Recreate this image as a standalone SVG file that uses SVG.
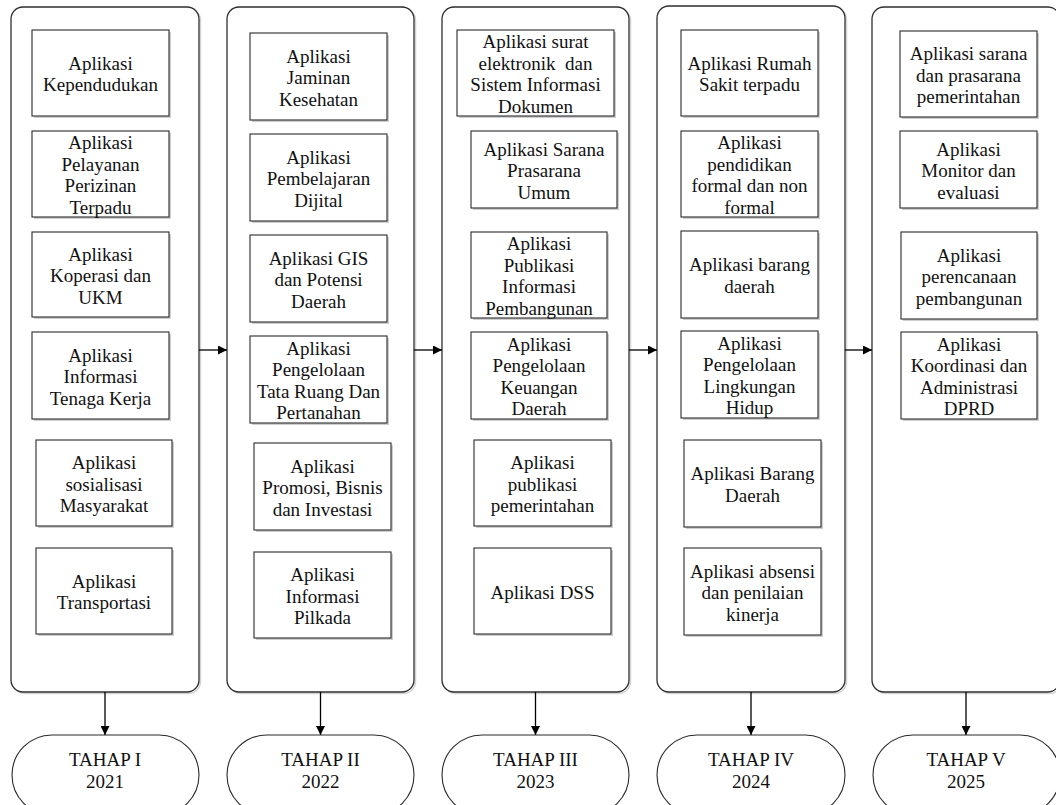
<svg xmlns="http://www.w3.org/2000/svg" width="1056" height="805" viewBox="0 0 1056 805">
  <style>
    .lane { fill: #ffffff; stroke: #2e2e2e; stroke-width: 1.3; }
    .lane-sh { fill: none; stroke: #d4d4d4; stroke-width: 1.5; }
    .box { fill: #ffffff; stroke: #2a2a2a; stroke-width: 1.1; }
    .box-sh { fill: #cfcfcf; }
    .term { fill: #ffffff; stroke: #2a2a2a; stroke-width: 1.1; }
    .t { font-family: "Liberation Serif", "Times New Roman", serif; font-size: 19px; text-anchor: middle; fill: #111111; }
    .edge { fill: none; stroke: #000000; stroke-width: 1.3; marker-end: url(#arrow); }
  </style>
  <defs>
    <marker id="arrow" viewBox="0 0 10 10" refX="10" refY="5" markerWidth="9" markerHeight="9" markerUnits="userSpaceOnUse" orient="auto">
      <path d="M0,0 L10,5 L0,10 z" fill="#000000"/>
    </marker>
  </defs>
  <rect width="1056" height="805" fill="#ffffff"/>

  <!-- stage lanes -->
  <g id="lane-1">
    <rect class="lane-sh" x="12.5" y="8.5" width="188" height="685" rx="12"/>
    <rect class="lane" x="11" y="7" width="188" height="685" rx="12"/>
  </g>
  <g id="lane-2">
    <rect class="lane-sh" x="228.5" y="8.5" width="187" height="685" rx="12"/>
    <rect class="lane" x="227" y="7" width="187" height="685" rx="12"/>
  </g>
  <g id="lane-3">
    <rect class="lane-sh" x="443.5" y="8.5" width="187" height="685" rx="12"/>
    <rect class="lane" x="442" y="7" width="187" height="685" rx="12"/>
  </g>
  <g id="lane-4">
    <rect class="lane-sh" x="658.5" y="7.5" width="188" height="686" rx="12"/>
    <rect class="lane" x="657" y="6" width="188" height="686" rx="12"/>
  </g>
  <g id="lane-5">
    <rect class="lane-sh" x="873.5" y="8.5" width="188" height="685" rx="12"/>
    <rect class="lane" x="872" y="7" width="188" height="685" rx="12"/>
  </g>

  <!-- connectors -->
  <g id="connectors">
    <line class="edge" x1="199" y1="350" x2="227" y2="350"/>
    <line class="edge" x1="414" y1="350" x2="442" y2="350"/>
    <line class="edge" x1="629" y1="350" x2="657" y2="350"/>
    <line class="edge" x1="845" y1="350" x2="872" y2="350"/>
    <line class="edge" x1="105" y1="692" x2="105" y2="735"/>
    <line class="edge" x1="320.5" y1="692" x2="320.5" y2="735"/>
    <line class="edge" x1="535.5" y1="692" x2="535.5" y2="735"/>
    <line class="edge" x1="751" y1="692" x2="751" y2="735"/>
    <line class="edge" x1="966" y1="692" x2="966" y2="735"/>
  </g>

  <!-- TAHAP I -->
  <g id="app-kependudukan">
    <rect class="box-sh" x="34" y="32" width="137" height="86"/>
    <rect class="box" x="32" y="30" width="137" height="86"/>
    <text class="t" x="100.5" y="69.75"><tspan x="100.5">Aplikasi</tspan><tspan x="100.5" dy="21.5">Kependudukan</tspan></text>
  </g>
  <g id="app-perizinan">
    <rect class="box-sh" x="34" y="133" width="137" height="86"/>
    <rect class="box" x="32" y="131" width="137" height="86"/>
    <text class="t" x="100.5" y="149.25"><tspan x="100.5">Aplikasi</tspan><tspan x="100.5" dy="21.5">Pelayanan</tspan><tspan x="100.5" dy="21.5">Perizinan</tspan><tspan x="100.5" dy="21.5">Terpadu</tspan></text>
  </g>
  <g id="app-koperasi">
    <rect class="box-sh" x="34" y="234" width="137" height="85"/>
    <rect class="box" x="32" y="232" width="137" height="85"/>
    <text class="t" x="100.5" y="260.5"><tspan x="100.5">Aplikasi</tspan><tspan x="100.5" dy="21.5">Koperasi dan</tspan><tspan x="100.5" dy="21.5">UKM</tspan></text>
  </g>
  <g id="app-tenaga-kerja">
    <rect class="box-sh" x="34" y="334" width="137" height="87"/>
    <rect class="box" x="32" y="332" width="137" height="87"/>
    <text class="t" x="100.5" y="361.5"><tspan x="100.5">Aplikasi</tspan><tspan x="100.5" dy="21.5">Informasi</tspan><tspan x="100.5" dy="21.5">Tenaga Kerja</tspan></text>
  </g>
  <g id="app-sosialisasi">
    <rect class="box-sh" x="38" y="442" width="136" height="86"/>
    <rect class="box" x="36" y="440" width="136" height="86"/>
    <text class="t" x="104" y="469"><tspan x="104">Aplikasi</tspan><tspan x="104" dy="21.5">sosialisasi</tspan><tspan x="104" dy="21.5">Masyarakat</tspan></text>
  </g>
  <g id="app-transportasi">
    <rect class="box-sh" x="38" y="550" width="136" height="86"/>
    <rect class="box" x="36" y="548" width="136" height="86"/>
    <text class="t" x="104" y="587.75"><tspan x="104">Aplikasi</tspan><tspan x="104" dy="21.5">Transportasi</tspan></text>
  </g>

  <!-- TAHAP II -->
  <g id="app-jaminan">
    <rect class="box-sh" x="252" y="35" width="137" height="87"/>
    <rect class="box" x="250" y="33" width="137" height="87"/>
    <text class="t" x="318.5" y="62.5"><tspan x="318.5">Aplikasi</tspan><tspan x="318.5" dy="21.5">Jaminan</tspan><tspan x="318.5" dy="21.5">Kesehatan</tspan></text>
  </g>
  <g id="app-pembelajaran">
    <rect class="box-sh" x="252" y="136" width="137" height="87"/>
    <rect class="box" x="250" y="134" width="137" height="87"/>
    <text class="t" x="318.5" y="163.5"><tspan x="318.5">Aplikasi</tspan><tspan x="318.5" dy="21.5">Pembelajaran</tspan><tspan x="318.5" dy="21.5">Dijital</tspan></text>
  </g>
  <g id="app-gis">
    <rect class="box-sh" x="252" y="237" width="137" height="87"/>
    <rect class="box" x="250" y="235" width="137" height="87"/>
    <text class="t" x="318.5" y="264.5"><tspan x="318.5">Aplikasi GIS</tspan><tspan x="318.5" dy="21.5">dan Potensi</tspan><tspan x="318.5" dy="21.5">Daerah</tspan></text>
  </g>
  <g id="app-tata-ruang">
    <rect class="box-sh" x="252" y="338" width="137" height="87"/>
    <rect class="box" x="250" y="336" width="137" height="87"/>
    <text class="t" x="318.5" y="354.75"><tspan x="318.5">Aplikasi</tspan><tspan x="318.5" dy="21.5">Pengelolaan</tspan><tspan x="318.5" dy="21.5">Tata Ruang Dan</tspan><tspan x="318.5" dy="21.5">Pertanahan</tspan></text>
  </g>
  <g id="app-promosi">
    <rect class="box-sh" x="256" y="445" width="137" height="87"/>
    <rect class="box" x="254" y="443" width="137" height="87"/>
    <text class="t" x="322.5" y="472.5"><tspan x="322.5">Aplikasi</tspan><tspan x="322.5" dy="21.5">Promosi, Bisnis</tspan><tspan x="322.5" dy="21.5">dan Investasi</tspan></text>
  </g>
  <g id="app-pilkada">
    <rect class="box-sh" x="256" y="554" width="137" height="86"/>
    <rect class="box" x="254" y="552" width="137" height="86"/>
    <text class="t" x="322.5" y="581"><tspan x="322.5">Aplikasi</tspan><tspan x="322.5" dy="21.5">Informasi</tspan><tspan x="322.5" dy="21.5">Pilkada</tspan></text>
  </g>

  <!-- TAHAP III -->
  <g id="app-surat">
    <rect class="box-sh" x="459" y="32" width="157" height="86"/>
    <rect class="box" x="457" y="30" width="157" height="86"/>
    <text class="t" x="535.5" y="48.25" xml:space="preserve"><tspan x="535.5">Aplikasi surat</tspan><tspan x="535.5" dy="21.5">elektronik  dan</tspan><tspan x="535.5" dy="21.5">Sistem Informasi</tspan><tspan x="535.5" dy="21.5">Dokumen</tspan></text>
  </g>
  <g id="app-sarana-umum">
    <rect class="box-sh" x="473" y="133" width="146" height="77"/>
    <rect class="box" x="471" y="131" width="146" height="77"/>
    <text class="t" x="544" y="155.5"><tspan x="544">Aplikasi Sarana</tspan><tspan x="544" dy="21.5">Prasarana</tspan><tspan x="544" dy="21.5">Umum</tspan></text>
  </g>
  <g id="app-publikasi-pembangunan">
    <rect class="box-sh" x="473" y="234" width="136" height="86"/>
    <rect class="box" x="471" y="232" width="136" height="86"/>
    <text class="t" x="539" y="250.25"><tspan x="539">Aplikasi</tspan><tspan x="539" dy="21.5">Publikasi</tspan><tspan x="539" dy="21.5">Informasi</tspan><tspan x="539" dy="21.5">Pembangunan</tspan></text>
  </g>
  <g id="app-keuangan">
    <rect class="box-sh" x="473" y="334" width="136" height="87"/>
    <rect class="box" x="471" y="332" width="136" height="87"/>
    <text class="t" x="539" y="350.75"><tspan x="539">Aplikasi</tspan><tspan x="539" dy="21.5">Pengelolaan</tspan><tspan x="539" dy="21.5">Keuangan</tspan><tspan x="539" dy="21.5">Daerah</tspan></text>
  </g>
  <g id="app-publikasi-pemerintahan">
    <rect class="box-sh" x="476" y="442" width="137" height="86"/>
    <rect class="box" x="474" y="440" width="137" height="86"/>
    <text class="t" x="542.5" y="469"><tspan x="542.5">Aplikasi</tspan><tspan x="542.5" dy="21.5">publikasi</tspan><tspan x="542.5" dy="21.5">pemerintahan</tspan></text>
  </g>
  <g id="app-dss">
    <rect class="box-sh" x="476" y="550" width="137" height="86"/>
    <rect class="box" x="474" y="548" width="137" height="86"/>
    <text class="t" x="542.5" y="598.5">Aplikasi DSS</text>
  </g>

  <!-- TAHAP IV -->
  <g id="app-rumah-sakit">
    <rect class="box-sh" x="683" y="32" width="137" height="86"/>
    <rect class="box" x="681" y="30" width="137" height="86"/>
    <text class="t" x="749.5" y="69.75"><tspan x="749.5">Aplikasi Rumah</tspan><tspan x="749.5" dy="21.5">Sakit terpadu</tspan></text>
  </g>
  <g id="app-pendidikan">
    <rect class="box-sh" x="683" y="133" width="137" height="86"/>
    <rect class="box" x="681" y="131" width="137" height="86"/>
    <text class="t" x="749.5" y="149.25"><tspan x="749.5">Aplikasi</tspan><tspan x="749.5" dy="21.5">pendidikan</tspan><tspan x="749.5" dy="21.5">formal dan non</tspan><tspan x="749.5" dy="21.5">formal</tspan></text>
  </g>
  <g id="app-barang-daerah">
    <rect class="box-sh" x="683" y="233" width="137" height="87"/>
    <rect class="box" x="681" y="231" width="137" height="87"/>
    <text class="t" x="749.5" y="271.25"><tspan x="749.5">Aplikasi barang</tspan><tspan x="749.5" dy="21.5">daerah</tspan></text>
  </g>
  <g id="app-lingkungan">
    <rect class="box-sh" x="683" y="333" width="137" height="87"/>
    <rect class="box" x="681" y="331" width="137" height="87"/>
    <text class="t" x="749.5" y="349.75"><tspan x="749.5">Aplikasi</tspan><tspan x="749.5" dy="21.5">Pengelolaan</tspan><tspan x="749.5" dy="21.5">Lingkungan</tspan><tspan x="749.5" dy="21.5">Hidup</tspan></text>
  </g>
  <g id="app-barang-daerah-2">
    <rect class="box-sh" x="686" y="442" width="137" height="87"/>
    <rect class="box" x="684" y="440" width="137" height="87"/>
    <text class="t" x="752.5" y="480.25"><tspan x="752.5">Aplikasi Barang</tspan><tspan x="752.5" dy="21.5">Daerah</tspan></text>
  </g>
  <g id="app-absensi">
    <rect class="box-sh" x="686" y="550" width="137" height="87"/>
    <rect class="box" x="684" y="548" width="137" height="87"/>
    <text class="t" x="752.5" y="577.5"><tspan x="752.5">Aplikasi absensi</tspan><tspan x="752.5" dy="21.5">dan penilaian</tspan><tspan x="752.5" dy="21.5">kinerja</tspan></text>
  </g>

  <!-- TAHAP V -->
  <g id="app-sarana-pemerintahan">
    <rect class="box-sh" x="902" y="33" width="137" height="86"/>
    <rect class="box" x="900" y="31" width="137" height="86"/>
    <text class="t" x="968.5" y="60"><tspan x="968.5">Aplikasi sarana</tspan><tspan x="968.5" dy="21.5">dan prasarana</tspan><tspan x="968.5" dy="21.5">pemerintahan</tspan></text>
  </g>
  <g id="app-monev">
    <rect class="box-sh" x="902" y="133" width="137" height="77"/>
    <rect class="box" x="900" y="131" width="137" height="77"/>
    <text class="t" x="968.5" y="155.5"><tspan x="968.5">Aplikasi</tspan><tspan x="968.5" dy="21.5">Monitor dan</tspan><tspan x="968.5" dy="21.5">evaluasi</tspan></text>
  </g>
  <g id="app-perencanaan">
    <rect class="box-sh" x="903" y="234" width="136" height="87"/>
    <rect class="box" x="901" y="232" width="136" height="87"/>
    <text class="t" x="969" y="261.5"><tspan x="969">Aplikasi</tspan><tspan x="969" dy="21.5">perencanaan</tspan><tspan x="969" dy="21.5">pembangunan</tspan></text>
  </g>
  <g id="app-dprd">
    <rect class="box-sh" x="903" y="334" width="136" height="87"/>
    <rect class="box" x="901" y="332" width="136" height="87"/>
    <text class="t" x="969" y="350.75"><tspan x="969">Aplikasi</tspan><tspan x="969" dy="21.5">Koordinasi dan</tspan><tspan x="969" dy="21.5">Administrasi</tspan><tspan x="969" dy="21.5">DPRD</tspan></text>
  </g>

  <!-- stage terminators -->
  <g id="tahap-1">
    <rect class="term" x="12" y="735" width="187" height="80" rx="40" ry="40"/>
    <text class="t" x="105" y="766"><tspan x="105">TAHAP I</tspan><tspan x="105" dy="22">2021</tspan></text>
  </g>
  <g id="tahap-2">
    <rect class="term" x="227" y="735" width="187" height="80" rx="40" ry="40"/>
    <text class="t" x="320.5" y="766"><tspan x="320.5">TAHAP II</tspan><tspan x="320.5" dy="22">2022</tspan></text>
  </g>
  <g id="tahap-3">
    <rect class="term" x="442" y="735" width="187" height="80" rx="40" ry="40"/>
    <text class="t" x="535.5" y="766"><tspan x="535.5">TAHAP III</tspan><tspan x="535.5" dy="22">2023</tspan></text>
  </g>
  <g id="tahap-4">
    <rect class="term" x="657" y="735" width="188" height="80" rx="40" ry="40"/>
    <text class="t" x="751" y="766"><tspan x="751">TAHAP IV</tspan><tspan x="751" dy="22">2024</tspan></text>
  </g>
  <g id="tahap-5">
    <rect class="term" x="873" y="735" width="187" height="80" rx="40" ry="40"/>
    <text class="t" x="966" y="766"><tspan x="966">TAHAP V</tspan><tspan x="966" dy="22">2025</tspan></text>
  </g>
</svg>
